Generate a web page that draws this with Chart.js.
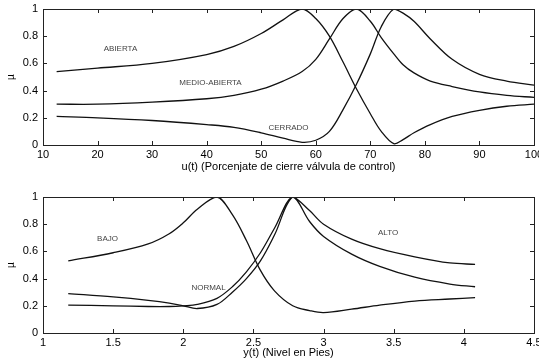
<!DOCTYPE html>
<html>
<head>
<meta charset="utf-8">
<script src="https://cdn.jsdelivr.net/npm/chart.js@4.4.1/dist/chart.umd.min.js"></script>
<style>
  html, body { margin: 0; padding: 0; background: #fff; }
  .panel { position: absolute; left: 0; width: 539px; height: 182px; }
</style>
</head>
<body>
<div class="panel" style="top:0"><canvas id="chart-top" width="539" height="182"></canvas></div>
<div class="panel" style="top:182px"><canvas id="chart-bottom" width="539" height="182"></canvas></div>
<script>
'use strict';

// ***************** DATA: TOP PLOT (valve closure %) ********** //

let valveX = [12.5, 20, 30, 40, 45, 50, 54, 57.5, 60, 62.5, 65, 67.5, 70, 72, 74.3, 76, 78, 81, 85, 90, 95, 100];
let abierta = [0.54, 0.565, 0.60, 0.665, 0.725, 0.82, 0.92, 1.0, 0.93, 0.80, 0.61, 0.41, 0.23, 0.10, 0.01, 0.04, 0.09, 0.15, 0.21, 0.255, 0.285, 0.30];
let medioAbierta = [0.30, 0.30, 0.315, 0.34, 0.365, 0.41, 0.47, 0.54, 0.63, 0.78, 0.93, 1.0, 0.91, 0.79, 0.67, 0.59, 0.53, 0.47, 0.43, 0.39, 0.365, 0.35];
let cerrado = [0.21, 0.20, 0.18, 0.15, 0.13, 0.09, 0.05, 0.02, 0.035, 0.10, 0.26, 0.45, 0.67, 0.87, 1.0, 0.97, 0.91, 0.78, 0.63, 0.52, 0.47, 0.44];

// ***************** DATA: BOTTOM PLOT (level, feet) ********** //

let levelX = [1.18, 1.5, 1.75, 1.9, 2.0, 2.1, 2.24, 2.35, 2.45, 2.55, 2.65, 2.78, 2.9, 3.0, 3.2, 3.4, 3.65, 3.9, 4.08];
let bajo = [0.53, 0.59, 0.655, 0.73, 0.81, 0.91, 1.0, 0.87, 0.68, 0.46, 0.31, 0.20, 0.165, 0.15, 0.175, 0.205, 0.235, 0.25, 0.26];
let normal = [0.205, 0.20, 0.195, 0.195, 0.20, 0.21, 0.255, 0.34, 0.45, 0.59, 0.77, 1.0, 0.82, 0.71, 0.58, 0.49, 0.41, 0.36, 0.34];
let alto = [0.29, 0.265, 0.24, 0.22, 0.20, 0.18, 0.21, 0.30, 0.40, 0.53, 0.72, 1.0, 0.90, 0.80, 0.69, 0.62, 0.56, 0.515, 0.505];

// ***************** TEXT ***************** //

let topTitle = 'u(t) (Porcenjate de cierre válvula de control)';
let bottomTitle = 'y(t) (Nivel en Pies)';
let yTitle = 'µ';

let topNotes = [
  { text: 'ABIERTA', x: 24.2, y: 0.71 },
  { text: 'MEDIO-ABIERTA', x: 40.7, y: 0.46 },
  { text: 'CERRADO', x: 55.0, y: 0.125 }
];
let bottomNotes = [
  { text: 'BAJO', x: 1.46, y: 0.69 },
  { text: 'NORMAL', x: 2.18, y: 0.33 },
  { text: 'ALTO', x: 3.46, y: 0.735 }
];

// ***************** HELPERS ***************** //

const FONT = '"Liberation Sans", Arial, sans-serif';

// frame box, inward ticks on all four sides, and the in-plot labels
const frameTicks = {
  id: 'frameTicks',
  afterDraw(chart, args, opts) {
    const { ctx, chartArea: a, scales: { x, y } } = chart;
    ctx.save();
    ctx.strokeStyle = '#222';
    ctx.lineWidth = 1;
    ctx.strokeRect(a.left + 0.5, a.top + 0.5, a.right - a.left, a.bottom - a.top);
    ctx.beginPath();
    x.ticks.forEach(t => {
      let px = Math.round(x.getPixelForValue(t.value)) + 0.5;
      ctx.moveTo(px, a.bottom); ctx.lineTo(px, a.bottom - 4);
      ctx.moveTo(px, a.top); ctx.lineTo(px, a.top + 4);
    });
    y.ticks.forEach(t => {
      let py = Math.round(y.getPixelForValue(t.value)) + 0.5;
      ctx.moveTo(a.left, py); ctx.lineTo(a.left + 4, py);
      ctx.moveTo(a.right, py); ctx.lineTo(a.right - 4, py);
    });
    ctx.stroke();

    ctx.font = '8px ' + FONT;
    ctx.fillStyle = '#444';
    ctx.textAlign = 'center';
    ctx.textBaseline = 'middle';
    opts.notes.forEach(n => {
      ctx.fillText(n.text, x.getPixelForValue(n.x), y.getPixelForValue(n.y));
    });
    ctx.restore();
  }
};

// MATLAB style tick text: 1 not 1.0
function plainTick(value) {
  return String(Number(value.toFixed(2)));
}

function makeSeries(xs, vals) {
  return {
    data: xs.map((x, i) => ({ x: x, y: vals[i] })),
    borderColor: '#111',
    borderWidth: 1.3,
    pointRadius: 0,
    fill: false,
    tension: 0.35
  };
}

function renderPanel(canvasId, xs, seriesList, xMin, xMax, xStep, xTitle, notes, padTop, xHeight, titlePad) {
  let ctx = document.getElementById(canvasId).getContext('2d');
  new Chart(ctx, {
    type: 'line',
    data: { datasets: seriesList.map(s => makeSeries(xs, s)) },
    options: {
      responsive: false,
      animation: false,
      devicePixelRatio: 1,
      layout: { padding: { top: padTop, right: 5, left: 0, bottom: 0 } },
      plugins: {
        legend: { display: false },
        tooltip: { enabled: false },
        frameTicks: { notes: notes }
      },
      scales: {
        x: {
          type: 'linear',
          min: xMin,
          max: xMax,
          grid: { display: false, drawTicks: false },
          border: { display: false },
          ticks: { stepSize: xStep, autoSkip: false, maxRotation: 0, padding: 3, color: '#000', font: { family: FONT, size: 11 }, callback: plainTick },
          title: { display: true, text: xTitle, color: '#000', font: { family: FONT, size: 11 }, padding: { top: 0, bottom: titlePad } },
          afterFit(scale) {
            scale.height = xHeight;
            scale.paddingLeft = 0;
            scale.paddingRight = 0;
          }
        },
        y: {
          min: 0,
          max: 1,
          grid: { display: false, drawTicks: false },
          border: { display: false },
          ticks: { stepSize: 0.2, padding: 5, color: '#000', font: { family: FONT, size: 11 }, callback: plainTick },
          title: { display: true, text: yTitle, color: '#000', font: { family: FONT, size: 10 }, padding: { top: 5, bottom: 0 } },
          afterFit(scale) {
            scale.width = 43;
            scale.paddingTop = 0;
            scale.paddingBottom = 0;
          }
        }
      }
    },
    plugins: [frameTicks]
  });
}

// ***************** RENDER ***************** //

renderPanel('chart-top', valveX, [abierta, medioAbierta, cerrado], 10, 100, 10, topTitle, topNotes, 9, 37, 8);
renderPanel('chart-bottom', levelX, [bajo, normal, alto], 1, 4.5, 0.5, bottomTitle, bottomNotes, 15, 31, 4);
</script>
</body>
</html>
